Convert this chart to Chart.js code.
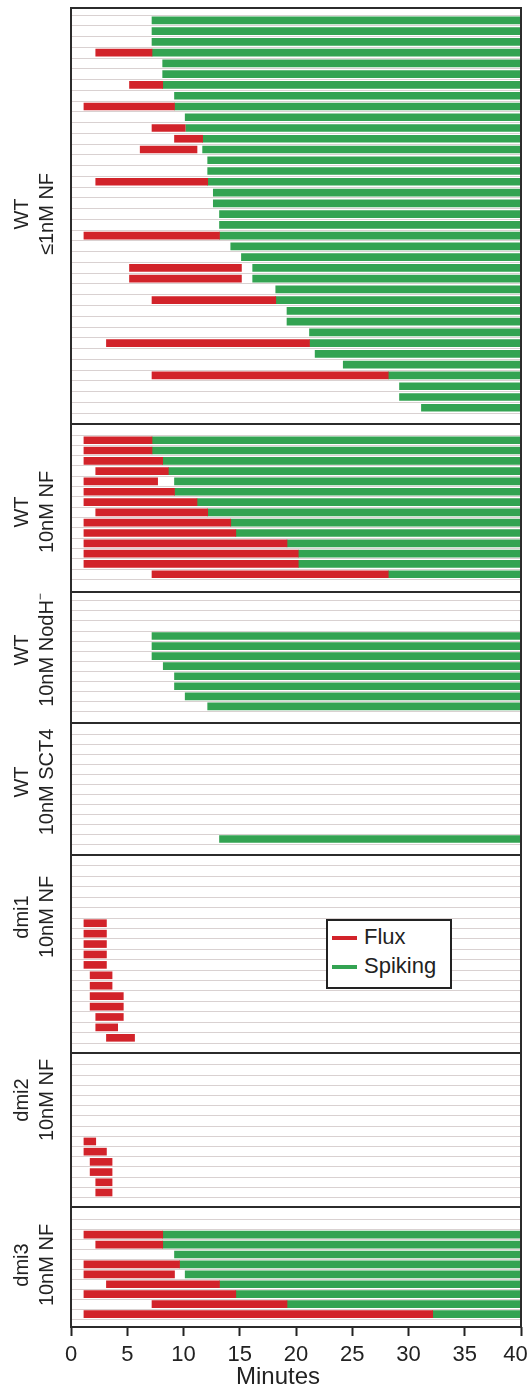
<!DOCTYPE html>
<html>
<head>
<meta charset="utf-8">
<title>Flux and spiking onset</title>
<script src="https://cdn.jsdelivr.net/npm/chart.js@4.4.1/dist/chart.umd.min.js"></script>
<style>
  html, body { margin: 0; padding: 0; background: #fff; }
  #figure {
    position: relative; width: 527px; height: 1390px; overflow: hidden;
    font-family: 'Liberation Sans', Arial, Helvetica, sans-serif; color: #222;
  }
  .panel { position: absolute; left: 0; }
  .panel canvas { display: block; }
  .panel-label {
    position: absolute; width: 200px; height: 50px; margin-left: -100px; margin-top: -25px;
    line-height: 25px; font-size: 20px; text-align: center; white-space: nowrap;
    transform: rotate(-90deg);
  }
  .panel-label sup { font-size: 12px; line-height: 0; vertical-align: 9px; }
  #legend {
    position: absolute; left: 326px; top: 919px; width: 126px; height: 70px;
    box-sizing: border-box; border: 2px solid #222; background: #fff;
  }
  #legend .swatch { position: absolute; left: 4px; width: 25px; height: 4px; }
  #legend .name { position: absolute; left: 36px; font-size: 22px; line-height: 22px; white-space: nowrap; }
</style>
</head>
<body>
<div id="figure"></div>
<script>
// ---- data (minutes) ----
const minuteTicks = [0, 5, 10, 15, 20, 25, 30, 35, 40]
const recordEnd = 40
const panelNames = [
  ['WT', '≤1nM NF'],
  ['WT', '10nM NF'],
  ['WT', '10nM NodH<sup>−</sup>'],
  ['WT', '10nM SCT4'],
  ['dmi1', '10nM NF'],
  ['dmi2', '10nM NF'],
  ['dmi3', '10nM NF']
]
const panelRows = [37, 14, 11, 11, 17, 13, 10]

// WT, <=1nM NF
const flux1Start = [null, null, null, 2.2, null, null, 5.2, null, 1.15, null, 7.2, 9.2, 6.15, null, null, 2.2, null, null, null, null, 1.15, null, null, 5.2, 5.2, null, 7.2, null, null, null, 3.15, null, null, 7.2, null, null, null]
const flux1End = [null, null, null, 7.2, null, null, 8.15, null, 9.2, null, 10.15, 11.7, 11.2, null, null, 12.15, null, null, null, null, 13.2, null, null, 15.15, 15.15, null, 18.2, null, null, null, 21.2, null, null, 28.2, null, null, null]
const spike1Start = [7.2, 7.2, 7.2, 7.2, 8.15, 8.15, 8.15, 9.2, 9.2, 10.15, 10.2, 11.7, 11.7, 12.15, 12.15, 12.15, 12.65, 12.65, 13.2, 13.2, 13.2, 14.2, 15.15, 16.15, 16.15, 18.2, 18.2, 19.2, 19.2, 21.2, 21.2, 21.7, 24.2, 28.2, 29.2, 29.2, 31.15]

// WT, 10nM NF
const flux2Start = [1.15, 1.15, 1.15, 2.2, 1.15, 1.15, 1.15, 2.2, 1.15, 1.15, 1.15, 1.15, 1.15, 7.2]
const flux2End = [7.2, 7.2, 8.15, 8.65, 7.7, 9.2, 11.2, 12.15, 14.2, 14.65, 19.2, 20.2, 20.2, 28.2]
const spike2Start = [7.2, 7.2, 8.15, 8.65, 9.2, 9.2, 11.2, 12.15, 14.2, 14.65, 19.2, 20.2, 20.2, 28.2]

// WT, 10nM NodH-
const spike3Start = [null, null, null, 7.2, 7.2, 7.2, 8.2, 9.2, 9.2, 10.15, 12.15]

// WT, 10nM SCT4
const spike4Start = [null, null, null, null, null, null, null, null, null, null, 13.2]

// dmi1
const flux5Start = [null, null, null, null, null, 1.15, 1.15, 1.15, 1.15, 1.15, 1.7, 1.7, 1.7, 1.7, 2.2, 2.2, 3.15]
const flux5End = [null, null, null, null, null, 3.15, 3.15, 3.15, 3.15, 3.15, 3.65, 3.65, 4.65, 4.65, 4.65, 4.15, 5.65]

// dmi2
const flux6Start = [null, null, null, null, null, null, null, 1.15, 1.15, 1.7, 1.7, 2.2, 2.2]
const flux6End = [null, null, null, null, null, null, null, 2.2, 3.15, 3.65, 3.65, 3.65, 3.65]

// dmi3
const flux7Start = [null, 1.15, 2.2, null, 1.15, 1.15, 3.15, 1.15, 7.2, 1.15]
const flux7End = [null, 8.15, 8.15, null, 9.65, 9.2, 13.2, 14.65, 19.2, 32.15]
const spike7Start = [null, 8.15, 8.15, 9.2, 9.65, 10.15, 13.2, 14.65, 19.2, 32.15]

const fluxStarts = [flux1Start, flux2Start, [], [], flux5Start, flux6Start, flux7Start]
const fluxEnds = [flux1End, flux2End, [], [], flux5End, flux6End, flux7End]
const spikeStarts = [spike1Start, spike2Start, spike3Start, spike4Start, [], [], spike7Start]

// ---- layout & style ----
const FONT = "'Liberation Sans', Arial, Helvetica, sans-serif"
const fluxRed = '#d2232a'
const spikeGreen = '#33a352'
const rowLine = '#d9d1d1'
const ink = '#222'
const figW = 527
const figH = 1390
const plotLeft = 71
const plotRight = 521
const panelEdges = [8, 424, 592, 723, 855, 1053, 1207, 1327]
const panelPad = [[0.63, 0.99], [0.99, 1.14], [0.79, 1.06], [1, 1], [0.99, 0.9], [1.08, 0.84], [1.18, 0.7]]
const labelCenters = [214, 512, 650, 782, 917, 1100, 1265]
const labelX = 33.5

const figure = document.getElementById('figure')

// dark frame round every panel
const panelBox = {
  id: 'panelBox',
  afterDraw(chart) {
    const { ctx, chartArea: a } = chart
    ctx.save()
    ctx.strokeStyle = '#2b2b2b'
    ctx.lineWidth = 2
    ctx.strokeRect(a.left, a.top, a.right - a.left, a.bottom - a.top)
    ctx.restore()
  }
}

function toBars(starts, ends) {
  const out = []
  starts.forEach((s, i) => {
    if (s !== null && s !== undefined) out.push({ y: i + 1, x: [s, ends[i]] })
  })
  return out
}

panelNames.forEach((names, i) => {
  const isLast = i === panelNames.length - 1
  const rows = panelRows[i]
  const top = panelEdges[i] - 1
  const height = (isLast ? figH : panelEdges[i + 1] + 1) - top

  const wrap = document.createElement('div')
  wrap.className = 'panel'
  wrap.style.top = top + 'px'
  const canvas = document.createElement('canvas')
  canvas.width = figW
  canvas.height = height
  canvas.style.width = figW + 'px'
  canvas.style.height = height + 'px'
  wrap.appendChild(canvas)
  figure.appendChild(wrap)

  const label = document.createElement('div')
  label.className = 'panel-label'
  label.innerHTML = names[0] + '<br>' + names[1]
  label.style.left = labelX + 'px'
  label.style.top = labelCenters[i] + 'px'
  figure.appendChild(label)

  const spikes = spikeStarts[i]

  new Chart(canvas, {
    type: 'bar',
    data: {
      datasets: [{
        label: 'Flux',
        data: toBars(fluxStarts[i], fluxEnds[i]),
        backgroundColor: fluxRed,
        borderWidth: 0
      }, {
        label: 'Spiking',
        data: toBars(spikes, spikes.map(() => recordEnd)),
        backgroundColor: spikeGreen,
        borderWidth: 0
      }]
    },
    options: {
      responsive: false,
      animation: false,
      indexAxis: 'y',
      layout: {
        padding: { left: plotLeft, right: figW - plotRight, top: 1, bottom: isLast ? 0 : 1 }
      },
      datasets: {
        bar: { grouped: false, barThickness: 7 }
      },
      plugins: {
        legend: { display: false },
        tooltip: { enabled: false }
      },
      scales: {
        x: {
          type: 'linear',
          min: minuteTicks[0],
          max: minuteTicks[minuteTicks.length - 1],
          display: isLast,
          afterBuildTicks: (s) => { s.ticks = minuteTicks.map(v => ({ value: v })) },
          afterFit: (s) => {
            s.paddingLeft = 0
            s.paddingRight = 0
            s.height = isLast ? figH - panelEdges[panelEdges.length - 1] : 0
          },
          ticks: {
            color: ink,
            padding: 6,
            maxRotation: 0,
            autoSkip: false,
            font: { family: FONT, size: 22 },
            // last label sits a little inside the frame, as in the original
            callback: (v, idx, ticks) => idx === ticks.length - 1 ? v + '\u2002' : String(v)
          },
          grid: {
            drawOnChartArea: false,
            drawTicks: true,
            tickLength: 9,
            tickColor: ink,
            tickWidth: 2
          },
          border: { display: false },
          title: {
            display: true,
            text: 'Minutes\u2003\u2002',
            color: ink,
            padding: { top: 0, bottom: 1 },
            font: { family: FONT, size: 24, lineHeight: 1 }
          }
        },
        y: {
          type: 'linear',
          reverse: true,
          min: 1 - panelPad[i][0],
          max: rows + panelPad[i][1],
          afterBuildTicks: (s) => {
            const t = []
            for (let r = 1; r <= rows; r++) t.push({ value: r })
            s.ticks = t
          },
          afterFit: (s) => {
            s.width = 0
            s.paddingTop = 0
            s.paddingBottom = 0
          },
          ticks: { display: false },
          border: { display: false },
          grid: { color: rowLine, lineWidth: 1, drawTicks: false }
        }
      }
    },
    plugins: [panelBox]
  })
})

// legend box sitting inside the dmi1 panel
const legend = document.createElement('div')
legend.id = 'legend'
legend.innerHTML =
  '<div class="swatch" style="top:15px;background:' + fluxRed + '"></div>' +
  '<div class="name" style="top:5px">Flux</div>' +
  '<div class="swatch" style="top:44px;background:' + spikeGreen + '"></div>' +
  '<div class="name" style="top:34px">Spiking</div>'
figure.appendChild(legend)
</script>
</body>
</html>
